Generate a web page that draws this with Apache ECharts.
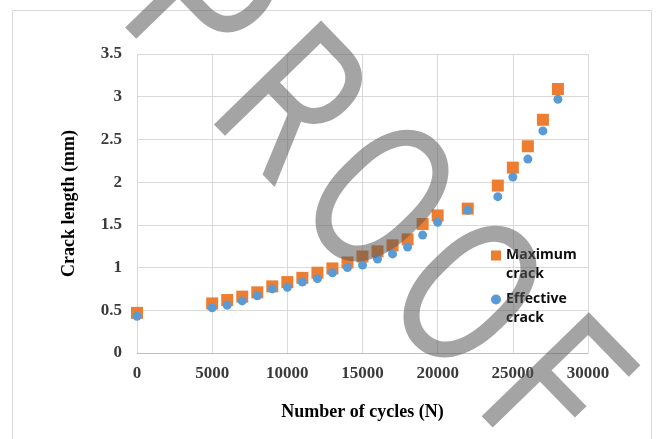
<!DOCTYPE html>
<html>
<head>
<meta charset="utf-8">
<script src="https://cdn.jsdelivr.net/npm/echarts@6.0.0/dist/echarts.min.js"></script>
<style>
    html, body { margin: 0; padding: 0; background: #ffffff; }
    #chart { width: 656px; height: 439px; }
</style>
</head>
<body>
<div id="chart"></div>
<script>
// Number of cycles (N)
const cycles = [0, 5000, 6000, 7000, 8000, 9000, 10000, 11000, 12000, 13000, 14000, 15000,
    16000, 17000, 18000, 19000, 20000, 22000, 24000, 25000, 26000, 27000, 28000]
// Crack length (mm)
const maximumCrack = [0.47, 0.58, 0.62, 0.66, 0.71, 0.78, 0.83, 0.88, 0.94, 0.99, 1.06, 1.13,
    1.19, 1.26, 1.33, 1.51, 1.61, 1.69, 1.96, 2.17, 2.42, 2.73, 3.09]
const effectiveCrack = [0.43, 0.53, 0.56, 0.61, 0.67, 0.75, 0.77, 0.83, 0.87, 0.94, 1.00, 1.03,
    1.10, 1.16, 1.24, 1.38, 1.53, 1.67, 1.83, 2.06, 2.27, 2.60, 2.97]
const seriesNames = ['Maximum crack', 'Effective crack']

const chart = echarts.init(document.getElementById('chart'))

const serif = '"Liberation Serif", "Times New Roman", serif'
const pair = (ys) => cycles.map((x, i) => [x, ys[i]])

// diagonal "PROOF" watermark, one letter at a time along the diagonal
const WATERMARK = 'PROOF'
const wmStart = [190, 19]     // first letter
const wmStep = [88, 96]       // offset between letters
const watermark = WATERMARK.split('').map((ch, i) => ({
    type: 'text',
    silent: true,
    z: 100,
    x: wmStart[0] + i * wmStep[0],
    y: wmStart[1] + i * wmStep[1],
    rotation: -0.8,
    scaleX: 0.8,
    style: {
        text: ch,
        fontFamily: 'Roboto, "Liberation Sans", sans-serif',
        fontWeight: 400,
        fontSize: 210,
        fill: '#595959',
        opacity: 0.55,
        align: 'center',
        verticalAlign: 'middle'
    }
}))

chart.setOption({
    animation: false,
    backgroundColor: '#ffffff',
    grid: { left: 137, right: 68, top: 54, bottom: 86, containLabel: false, outerBoundsMode: 'none' },
    xAxis: {
        type: 'value',
        min: 0,
        max: 30000,
        interval: 5000,
        name: 'Number of cycles (N)',
        nameLocation: 'middle',
        nameGap: 50,
        nameTextStyle: { fontFamily: serif, fontSize: 18, fontWeight: 'bold', color: '#000000' },
        axisLine: { show: true, lineStyle: { color: '#bfbfbf', width: 1 } },
        axisTick: { show: false },
        axisLabel: {
            margin: 12, fontFamily: serif, fontSize: 17, fontWeight: 'bold', color: '#3a3a3a',
            formatter: (v) => String(v)
        },
        splitLine: { show: true, lineStyle: { color: '#d9d9d9', width: 1 } }
    },
    yAxis: {
        type: 'value',
        min: 0,
        max: 3.5,
        interval: 0.5,
        name: 'Crack length (mm)',
        nameLocation: 'middle',
        nameGap: 59,
        nameTextStyle: { fontFamily: serif, fontSize: 18, fontWeight: 'bold', color: '#000000' },
        axisLine: { show: false },
        axisTick: { show: false },
        axisLabel: { margin: 15, fontFamily: serif, fontSize: 17, fontWeight: 'bold', color: '#3a3a3a' },
        splitLine: { show: true, lineStyle: { color: '#d9d9d9', width: 1 } }
    },
    legend: {
        orient: 'vertical',
        left: 491,
        top: 227,
        padding: 0,
        itemWidth: 10,
        itemHeight: 10,
        itemGap: -13,
        // leading empty line keeps the marker level with the first text line
        formatter: (name) => '\n' + name.replace(' ', '\n'),
        textStyle: {
            fontFamily: '"Open Sans", "Noto Sans", sans-serif',
            fontSize: 14,
            fontWeight: 'bold',
            color: '#0d0d0d',
            lineHeight: 19
        },
        data: [
            { name: seriesNames[0], icon: 'rect' },
            { name: seriesNames[1], icon: 'circle' }
        ]
    },
    series: [
        {
            name: seriesNames[0],
            type: 'scatter',
            symbol: 'rect',
            symbolSize: 12,
            itemStyle: { color: '#ed7d31', opacity: 1 },
            data: pair(maximumCrack)
        },
        {
            name: seriesNames[1],
            type: 'scatter',
            symbol: 'circle',
            symbolSize: 9,
            itemStyle: { color: '#5b9bd5', opacity: 1 },
            data: pair(effectiveCrack)
        }
    ],
    graphic: [
        {
            type: 'rect',
            silent: true,
            z: -1,
            shape: { x: 12.5, y: 10.5, width: 639, height: 440 },
            style: { fill: 'none', stroke: '#d9d9d9', lineWidth: 1 }
        },
        ...watermark
    ]
})
</script>
</body>
</html>
